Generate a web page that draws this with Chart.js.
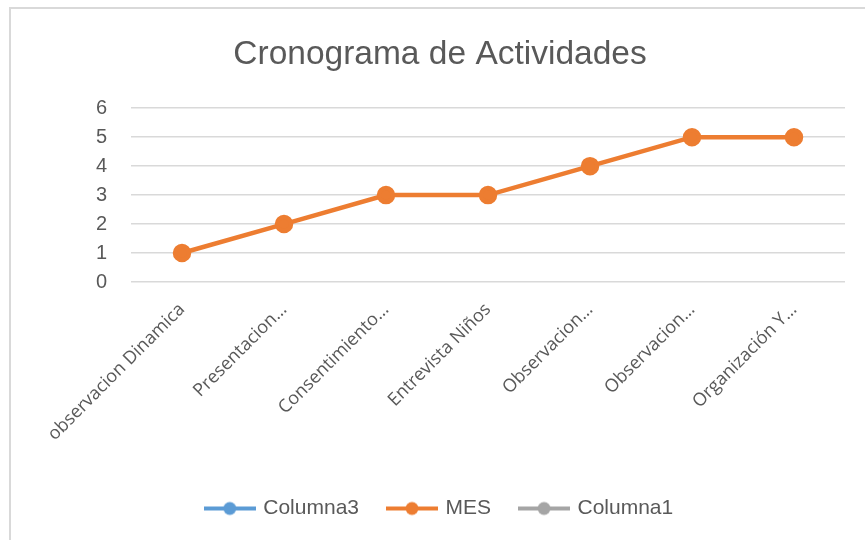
<!DOCTYPE html>
<html>
<head>
<meta charset="utf-8">
<script src="https://cdn.jsdelivr.net/npm/chart.js@4.4.1/dist/chart.umd.min.js"></script>
<style>
    body { margin: 0; background: #fff; }
    #wrap { position: relative; width: 865px; height: 540px; }
    #frame {
        position: absolute; left: 9px; top: 7px; right: 0; bottom: 0;
        border-top: 2px solid #d9d9d9; border-left: 2px solid #d9d9d9;
    }
    #chart { position: absolute; left: 0; top: 0; }
</style>
</head>
<body>
<div id="wrap">
    <div id="frame"></div>
    <canvas id="chart" width="865" height="540"></canvas>
</div>
<script>
// Activities and months
const activities = [
    'observacion Dinamica',
    'Presentacion…',
    'Consentimiento…',
    'Entrevista Niños',
    'Observacion…',
    'Observacion…',
    'Organización Y…'
];
const columna3Values = [null, null, null, null, null, null, null];
const mesValues = [1, 2, 3, 3, 4, 5, 5];
const columna1Values = [null, null, null, null, null, null, null];
const yTicks = [0, 1, 2, 3, 4, 5, 6];

const seriesNames = ['Columna3', 'MES', 'Columna1'];
const seriesColors = ['#5B9BD5', '#ED7D31', '#A5A5A5'];

// line + dot symbol for the legend
function legendSymbol(color) {
    const c = document.createElement('canvas');
    c.width = 52;
    c.height = 16;
    const ctx = c.getContext('2d');
    ctx.strokeStyle = color;
    ctx.lineWidth = 4;
    ctx.beginPath();
    ctx.moveTo(0, 8);
    ctx.lineTo(52, 8);
    ctx.stroke();
    ctx.fillStyle = color;
    ctx.beginPath();
    ctx.arc(26, 8, 6.5, 0, Math.PI * 2);
    ctx.fill();
    return c;
}

const textColor = '#595959';

const datasets = [columna3Values, mesValues, columna1Values].map((vals, i) => ({
    label: seriesNames[i],
    data: vals,
    borderColor: seriesColors[i],
    backgroundColor: seriesColors[i],
    borderWidth: 4.5,
    pointRadius: 7,
    pointHoverRadius: 7,
    pointStyle: 'circle',
    tension: 0
}));

new Chart(document.getElementById('chart').getContext('2d'), {
    type: 'line',
    data: { labels: activities, datasets: datasets },
    options: {
        responsive: false,
        animation: false,
        layout: { padding: { top: 0, left: 15, right: 0, bottom: 11 } },
        plugins: {
            title: {
                display: true,
                text: 'Cronograma de Actividades',
                color: textColor,
                font: { family: '"Liberation Sans", Arial, sans-serif', size: 33.5, weight: 'normal' },
                padding: { top: 35, bottom: 33 }
            },
            legend: {
                position: 'bottom',
                labels: {
                    color: textColor,
                    font: { family: '"Liberation Sans", Arial, sans-serif', size: 21 },
                    usePointStyle: true,
                    pointStyleWidth: 46,
                    padding: 30,
                    generateLabels: chart => chart.data.datasets.map((ds, i) => ({
                        text: ds.label,
                        pointStyle: legendSymbol(seriesColors[i]),
                        fillStyle: seriesColors[i],
                        strokeStyle: seriesColors[i],
                        fontColor: textColor,
                        lineWidth: 0,
                        hidden: false,
                        datasetIndex: i
                    }))
                }
            },
            tooltip: { enabled: false }
        },
        scales: {
            x: {
                offset: true,
                grid: { display: false },
                border: { display: false },
                ticks: {
                    color: textColor,
                    font: { family: '"Open Sans", sans-serif', size: 18 },
                    minRotation: 45,
                    maxRotation: 45,
                    autoSkip: false,
                    padding: 9
                },
                afterFit: s => {
                    s.height = 186;
                    s.paddingLeft = 0;
                    s.paddingRight = 20;
                }
            },
            y: {
                min: yTicks[0],
                max: yTicks[yTicks.length - 1],
                afterBuildTicks: s => { s.ticks = yTicks.map(v => ({ value: v })); },
                grid: { color: '#d9d9d9', lineWidth: 1.5, drawTicks: false },
                border: { display: false },
                ticks: {
                    color: textColor,
                    font: { family: '"Liberation Sans", Arial, sans-serif', size: 20 },
                    padding: 24
                },
                afterFit: s => { s.width = 116; }
            }
        }
    }
});
</script>
</body>
</html>
